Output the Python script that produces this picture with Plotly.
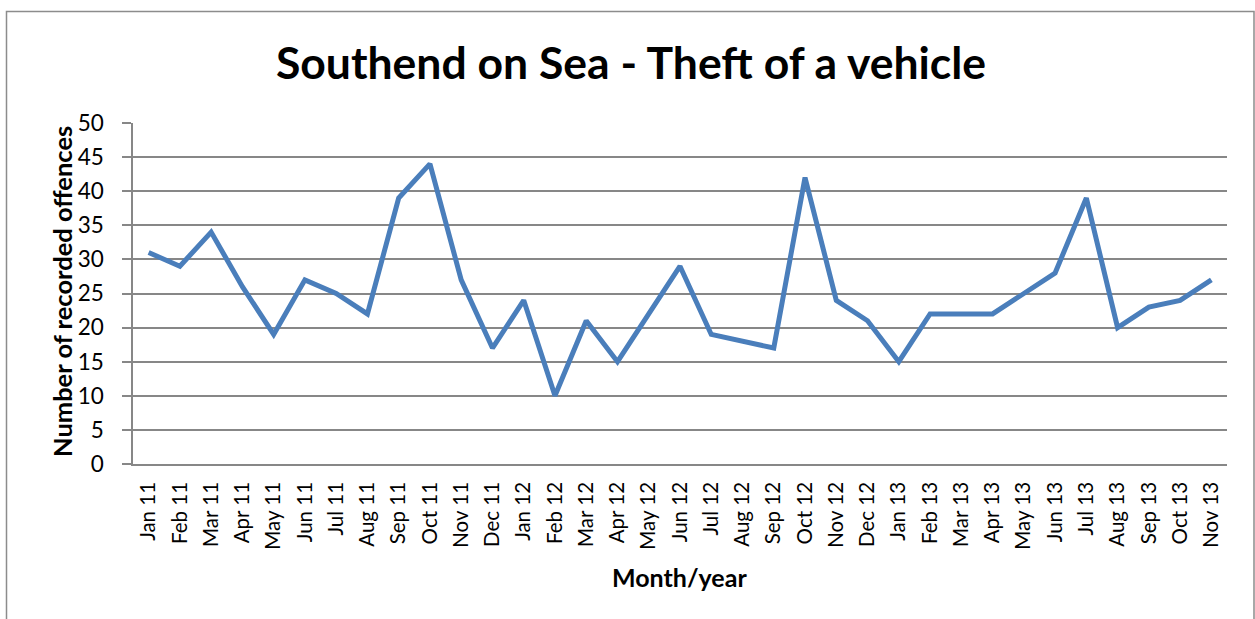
import plotly.graph_objects as go

months = ["Jan 11", "Feb 11", "Mar 11", "Apr 11", "May 11", "Jun 11", "Jul 11", "Aug 11",
          "Sep 11", "Oct 11", "Nov 11", "Dec 11", "Jan 12", "Feb 12", "Mar 12", "Apr 12",
          "May 12", "Jun 12", "Jul 12", "Aug 12", "Sep 12", "Oct 12", "Nov 12", "Dec 12",
          "Jan 13", "Feb 13", "Mar 13", "Apr 13", "May 13", "Jun 13", "Jul 13", "Aug 13",
          "Sep 13", "Oct 13", "Nov 13"]
offences = [31, 29, 34, 26, 19, 27, 25, 22, 39, 44, 27, 17, 24, 10, 21, 15,
            22, 29, 19, 18, 17, 42, 24, 21, 15, 22, 22, 22, 25, 28, 39, 20,
            23, 24, 27]
y_ticks = [0, 5, 10, 15, 20, 25, 30, 35, 40, 45, 50]

W, H = 1255, 619
L, R, T, B = 133, 1227, 123, 464

def px(x):
    return (x - L) / (R - L)

def py(y):
    return (B - y) / (B - T)

font_family = "Lato, 'Open Sans', sans-serif"
grid_col = "#878787"

fig = go.Figure()
fig.add_trace(go.Scatter(
    x=months, y=offences, mode="lines",
    line=dict(color="#4A7EBB", width=5),
    showlegend=False, hoverinfo="x+y",
))

fig.update_layout(
    width=W, height=H,
    margin=dict(l=L, r=W - R, t=T, b=H - B, pad=0),
    paper_bgcolor="white", plot_bgcolor="white",
    font=dict(family=font_family, color="black"),
    title=dict(text="<b>Southend on Sea - Theft of a vehicle</b>",
               font=dict(size=44.5, family=font_family, color="black"),
               x=631 / W, xanchor="center", y=1 - 63 / H, yanchor="middle"),
    xaxis=dict(
        type="category", range=[-0.5, len(months) - 0.5],
        tickangle=-90, tickfont=dict(size=20.5), ticks="", ticklabelstandoff=8,
        showgrid=False, showline=True, linecolor=grid_col, linewidth=1.5,
        automargin=False,
    ),
    yaxis=dict(
        range=[0, 50], tickvals=y_ticks, tickfont=dict(size=22.5),
        ticks="outside", ticklen=9, tickcolor=grid_col, tickwidth=1.5,
        ticklabelstandoff=14,
        showgrid=True, gridcolor=grid_col, gridwidth=1.5,
        showline=True, linecolor=grid_col, linewidth=1.5,
        zeroline=False,
        automargin=False,
    ),
    annotations=[
        dict(text="<b>Month/year</b>", xref="paper", yref="paper",
             x=px(679), y=py(577), xanchor="center", yanchor="middle",
             showarrow=False, font=dict(size=25, family=font_family, color="black")),
        dict(text="<b>Number of recorded offences</b>", xref="paper", yref="paper",
             x=px(62), y=py(292), xanchor="center", yanchor="middle", textangle=-90,
             showarrow=False, font=dict(size=25.5, family=font_family, color="black")),
    ],
    shapes=[dict(type="rect", xref="paper", yref="paper",
                 x0=px(6.5), x1=px(1254), y0=py(640), y1=py(11.5),
                 line=dict(color="#8C8C8C", width=1.5), fillcolor="rgba(0,0,0,0)",
                 layer="below")],
)

fig.write_html("out.html", config={"displayModeBar": False},
               post_script="document.body.style.margin='0';document.body.style.padding='0';")
